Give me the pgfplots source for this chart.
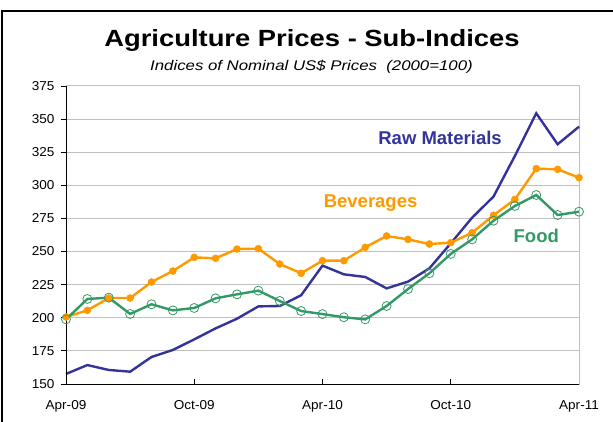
\documentclass[border=0pt]{standalone}
\usepackage{fontspec}
\setmainfont{Liberation Sans}[FakeStretch=1.05]
\newfontfamily\titlefont{Liberation Sans}[FakeStretch=1.17]
\newfontfamily\subfont{Liberation Sans}[FakeStretch=1.2]
\newfontfamily\labfont{Liberation Sans}
\usepackage{pgfplots}
\pgfplotsset{compat=1.18}
\definecolor{rawc}{HTML}{333399}
\definecolor{bevc}{HTML}{FF9900}
\definecolor{foodc}{HTML}{339966}
\definecolor{gridc}{HTML}{C0C0C0}
\begin{document}
\begin{tikzpicture}
\useasboundingbox (0pt,0pt) rectangle (613pt,-422pt);
\draw[line width=2pt] (2pt,-422pt) -- (2pt,-11pt) -- (613pt,-11pt);
\node[anchor=base, font=\titlefont\fontsize{23.4}{26}\selectfont\bfseries] at (312pt,-47pt) {Agriculture Prices - Sub-Indices};
\node[anchor=base, font=\subfont\fontsize{14}{16}\selectfont\itshape] at (311.5pt,-71pt) {Indices of Nominal US\$ Prices\ \ (2000=100)};
\begin{axis}[
  at={(66pt,-384pt)}, anchor=south west,
  scale only axis, width=513pt, height=298pt,
  xmin=0, xmax=24, ymin=150, ymax=375,
  xtick={0,6,12,18,24},
  xticklabels={Apr-09,Oct-09,Apr-10,Oct-10,Apr-11},
  ytick={150,175,...,375},
  tick pos=left,
  major tick length=5pt,
  major y tick style={xshift=-5pt, black, line width=0.8pt},
  major x tick style={black, line width=0.8pt},
  yticklabel style={xshift=-8pt},
  xticklabel style={yshift=-13pt},
  ymajorgrids, grid style={gridc, line width=1pt},
  axis line style={gridc, line width=1pt},
  tick label style={font=\fontsize{12.9}{14}\selectfont},
  /pgf/number format/assume math mode=true,
  clip=false,
]
\addplot[rawc, line width=2.4pt, mark=none] coordinates {
(0,157.6) (1,164.3) (2,160.6) (3,159.3) (4,170.4) (5,175.7) (6,183.7) (7,192.0) (8,199.3) (9,208.6) (10,208.9) (11,217.0) (12,239.4) (13,232.8) (14,230.8) (15,222.2) (16,227.3) (17,237.3) (18,256.2) (19,275.6) (20,291.5) (21,322.2) (22,354.4) (23,331.0) (24,344.3)};
\addplot[bevc, line width=2.4pt, mark=*, mark size=3.5pt, mark options={fill=bevc, line width=0.5pt}] coordinates {
(0,200.6) (1,205.6) (2,214.9) (3,214.9) (4,227.0) (5,235.3) (6,245.6) (7,244.9) (8,251.9) (9,252.2) (10,240.6) (11,233.6) (12,243.1) (13,243.1) (14,253.2) (15,261.8) (16,259.2) (17,255.7) (18,256.7) (19,264.2) (20,277.4) (21,289.4) (22,312.6) (23,312.1) (24,305.8)};
\addplot[foodc, line width=2.4pt, mark=o, mark size=4.5pt, mark options={line width=0.8pt}] coordinates {
(0,198.8) (1,214.2) (2,215.2) (3,202.9) (4,210.2) (5,205.6) (6,207.4) (7,214.7) (8,217.7) (9,220.5) (10,212.7) (11,205.1) (12,202.8) (13,200.4) (14,198.8) (15,208.9) (16,221.7) (17,233.6) (18,248.2) (19,259.2) (20,273.3) (21,284.4) (22,292.7) (23,277.6) (24,280.1)};
\draw[black, line width=1pt] (rel axis cs:0,1) -- (rel axis cs:0,0) -- (rel axis cs:1,0);
\node[anchor=base, text=rawc, font=\labfont\fontsize{18.5}{20}\selectfont\bfseries] at (axis cs:17.5,331.2) {Raw Materials};
\node[anchor=base, text=bevc, font=\labfont\fontsize{18.5}{20}\selectfont\bfseries] at (axis cs:14.25,283.6) {Beverages};
\node[anchor=base, text=foodc, font=\labfont\fontsize{18.5}{20}\selectfont\bfseries] at (axis cs:22,257.2) {Food};
\end{axis}
\end{tikzpicture}
\end{document}
